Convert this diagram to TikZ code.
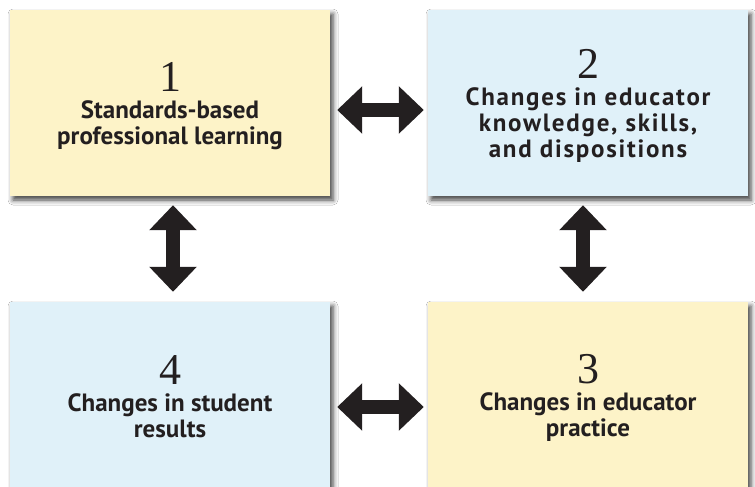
\documentclass[tikz,border=0pt]{standalone}
\usepackage{fontspec}
\setsansfont{PT Sans}
\newfontfamily\numfont{Liberation Serif}
\usetikzlibrary{arrows.meta,shadows.blur}
\definecolor{paleyellow}{HTML}{FDF3C8}
\definecolor{paleblue}{HTML}{E0F1F9}
\definecolor{ink}{HTML}{231F20}
\newcommand{\stepnum}[1]{{\numfont\mdseries\fontsize{44}{44}\selectfont #1}\\[1pt]}
\newcommand{\wide}{\addfontfeature{LetterSpace=7}}
\tikzset{
  stagebox/.style={rectangle, minimum width=320pt, minimum height=186pt, inner sep=0pt,
    blur shadow={shadow xshift=3pt, shadow yshift=-4pt, shadow blur radius=5pt, shadow opacity=75}},
  yellowbox/.style={stagebox, fill=paleyellow},
  bluebox/.style={stagebox, fill=paleblue},
  stagetext/.style={inner sep=0pt, align=center, text=ink,
    font=\sffamily\bfseries\fontsize{25}{26}\selectfont},
  linkarrow/.style={draw=ink, line width=14pt,
    {Triangle[length=25pt, width=46pt]}-{Triangle[length=25pt, width=46pt]}}
}
\begin{document}
\begin{tikzpicture}[x=1pt, y=-1pt]
  \useasboundingbox[fill=white] (0,0) rectangle (755,487);

  % the four stages of the cycle
  \node[yellowbox] (b1) at (170,103) {};
  \node[bluebox]   (b2) at (588,103) {};
  \node[yellowbox] (b3) at (588,395) {};
  \node[bluebox]   (b4) at (170,395) {};

  \node[stagetext] (t1) at ([yshift=-3pt]b1.center) {\stepnum{1}Standards-based\\professional learning};
  \node[stagetext] (t2) at ([yshift=-3pt]b2.center) {\stepnum{2}\wide Changes in educator\\\wide knowledge, skills,\\\wide and dispositions};
  \node[stagetext] (t3) at ([yshift=-3pt]b3.center) {\stepnum{3}Changes in educator\\practice};
  \node[stagetext] (t4) at ([yshift=-2pt]b4.center) {\stepnum{4}Changes in student\\results};

  % two-way links between neighbouring stages
  \draw[linkarrow] ([xshift=7pt, yshift=-7pt]b1.east) -- ([xshift=-4pt, yshift=-7pt]b2.west);
  \draw[linkarrow] ([xshift=7pt, yshift=-12pt]b4.east) -- ([xshift=-4pt, yshift=-12pt]b3.west);
  \draw[linkarrow] ([xshift=3pt, yshift=-9pt]b1.south) -- ([xshift=3pt, yshift=10pt]b4.north);
  \draw[linkarrow] ([xshift=-5pt, yshift=-9pt]b2.south) -- ([xshift=-5pt, yshift=10pt]b3.north);
\end{tikzpicture}
\end{document}
